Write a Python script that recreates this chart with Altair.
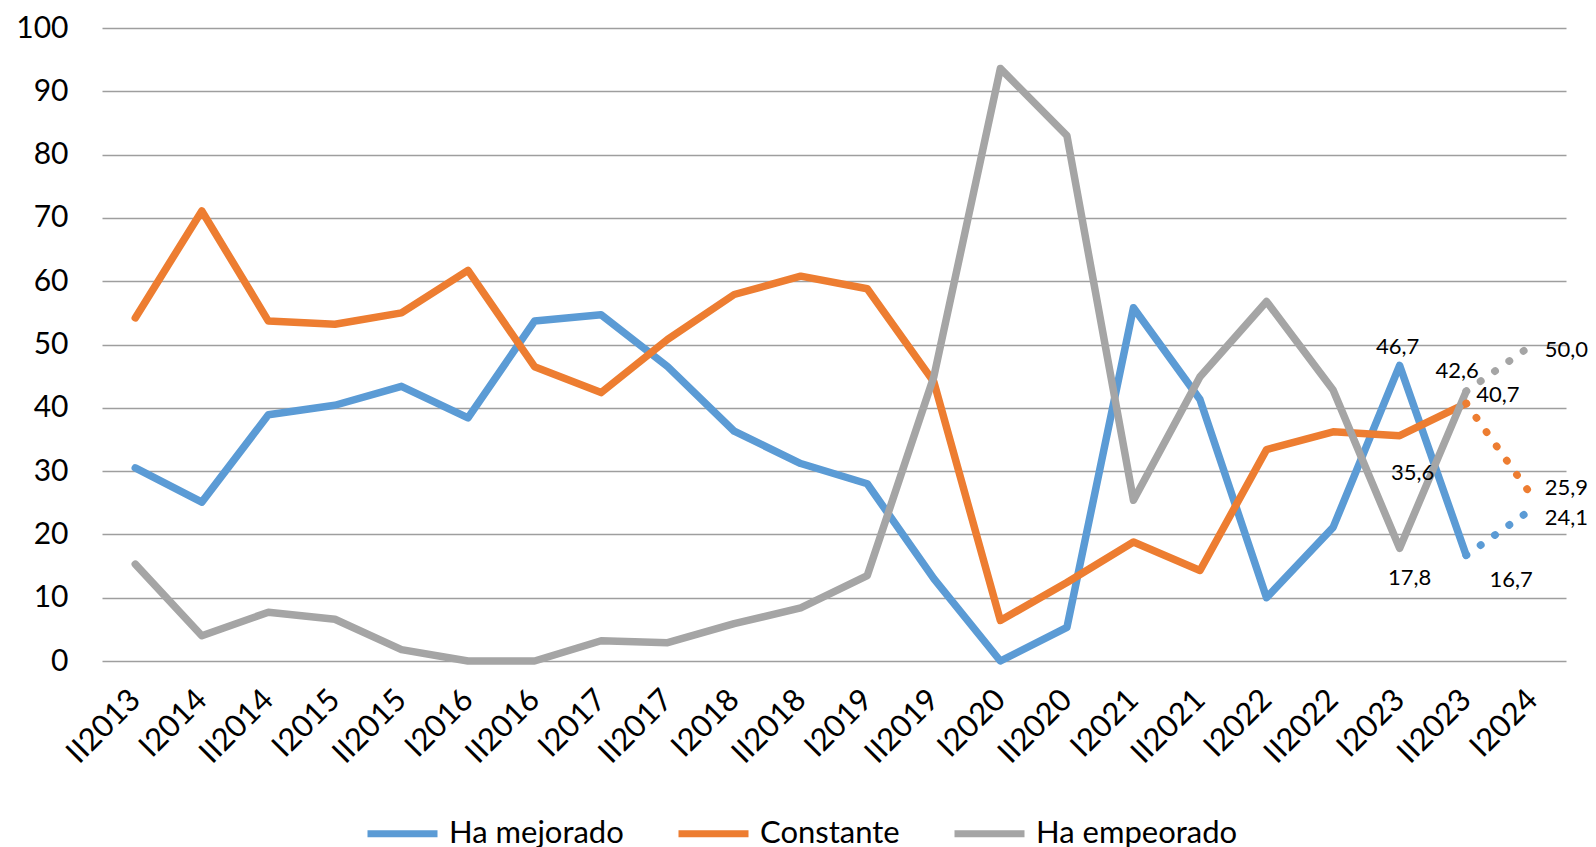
import altair as alt
import pandas as pd

periods = ["II2013", "I2014", "II2014", "I2015", "II2015", "I2016", "II2016",
           "I2017", "II2017", "I2018", "II2018", "I2019", "II2019", "I2020",
           "II2020", "I2021", "II2021", "I2022", "II2022", "I2023", "II2023",
           "I2024"]
series_names = ["Ha mejorado", "Constante", "Ha empeorado"]

mejorado = [30.5, 25.1, 38.9, 40.4, 43.4, 38.4, 53.7, 54.7, 46.5, 36.3, 31.2,
            28.0, 13.0, 0.0, 5.3, 55.8, 41.3, 10.0, 21.1, 46.7, 16.7]
constante = [54.2, 71.1, 53.7, 53.2, 55.0, 61.7, 46.5, 42.4, 50.8, 57.9, 60.8,
             58.8, 44.1, 6.4, 12.4, 18.8, 14.3, 33.4, 36.2, 35.6, 40.7]
empeorado = [15.3, 4.0, 7.7, 6.6, 1.8, 0.0, 0.0, 3.2, 2.9, 5.9, 8.4,
             13.5, 44.9, 93.6, 83.0, 25.4, 44.9, 56.8, 42.8, 17.8, 42.6]
# projected values (dotted segment)
proyeccion = [24.1, 25.9, 50.0]

colors = ["#5B9BD5", "#ED7D31", "#A5A5A5"]
FONT = "Lato"

all_series = [mejorado, constante, empeorado]

rows = []
for name, vals in zip(series_names, all_series):
    for p, v in zip(periods, vals):
        rows.append({"serie": name, "periodo": p, "valor": v})
df = pd.DataFrame(rows)

proj_rows = []
for name, vals, pv in zip(series_names, all_series, proyeccion):
    proj_rows.append({"serie": name, "periodo": periods[-2], "valor": vals[-1]})
    proj_rows.append({"serie": name, "periodo": periods[-1], "valor": pv})
df_proj = pd.DataFrame(proj_rows)

# data labels: (serie index, period, value)
label_points = [
    (0, "I2023", mejorado[-2]), (1, "I2023", constante[-2]), (2, "I2023", empeorado[-2]),
    (2, "II2023", empeorado[-1]), (1, "II2023", constante[-1]), (0, "II2023", mejorado[-1]),
    (2, "I2024", proyeccion[2]), (1, "I2024", proyeccion[1]), (0, "I2024", proyeccion[0]),
]
# label placement styles (align, dx, dy) in the same order
label_styles = [
    ("center", -2, -18), ("center", 13, 37), ("center", 10, 30),
    ("center", -9, -20), ("left", 10, -8), ("center", 45, 25),
    ("left", 12, 5), ("left", 12, -9), ("left", 12, 10),
]

x_scale = alt.Scale(domain=periods, type="point", padding=0.5)

x_enc = alt.X("periodo:N", scale=x_scale,
              axis=alt.Axis(title=None, labelAngle=-45, labelAlign="right",
                            labelBaseline="middle", labelFontSize=31,
                            labelPadding=34, ticks=False, domain=False,
                            grid=False, labelFont=FONT, labelColor="#000"))
y_enc = alt.Y("valor:Q",
              scale=alt.Scale(domain=[0, 100]),
              axis=alt.Axis(title=None, values=list(range(0, 101, 10)),
                            domain=False, ticks=False, labelPadding=34,
                            labelFontSize=30, labelFont=FONT, labelColor="#000",
                            gridColor="#9e9e9e", gridWidth=1.3))
color_scale = alt.Scale(domain=series_names, range=colors)

lines = alt.Chart(df).mark_line(strokeWidth=7.5, strokeJoin="round",
                                strokeCap="round").encode(
    x=x_enc, y=y_enc,
    color=alt.Color("serie:N", scale=color_scale, sort=series_names,
                    legend=alt.Legend(title=None, orient="none", legendX=262,
                                      legendY=767, direction="horizontal",
                                      symbolType="stroke", symbolSize=4900,
                                      symbolStrokeWidth=7, labelFontSize=31,
                                      labelFont=FONT, labelColor="#000",
                                      labelLimit=0,
                                      columnPadding=40, labelOffset=8,
                                      padding=0)),
    order=alt.Order("serie:N"),
)

dots = alt.Chart(df_proj).mark_line(strokeWidth=7.5, strokeCap="round",
                                    strokeDash=[0.5, 17]).encode(
    x=alt.X("periodo:N", scale=x_scale),
    y=alt.Y("valor:Q"),
    color=alt.Color("serie:N", scale=color_scale, legend=None),
)

label_layers = []
for (si, per, val), (align, dx, dy) in zip(label_points, label_styles):
    ldf = pd.DataFrame([{"serie": series_names[si], "periodo": per, "valor": val,
                         "texto": f"{val:.1f}".replace(".", ",")}])
    label_layers.append(
        alt.Chart(ldf).mark_text(align=align, baseline="middle", dx=dx, dy=dy,
                                 fontSize=22, font=FONT, color="#000").encode(
            x=alt.X("periodo:N", scale=x_scale),
            y=alt.Y("valor:Q"),
            text="texto:N",
        )
    )

chart = alt.layer(lines, dots, *label_layers).properties(
    width=1464, height=633,
    autosize=alt.AutoSizeParams(type="none"),
    padding={"left": 94, "top": 20, "right": 22, "bottom": 200},
).configure_view(stroke=None)

chart.save("out.html", embed_options={"renderer": "svg", "actions": False})
